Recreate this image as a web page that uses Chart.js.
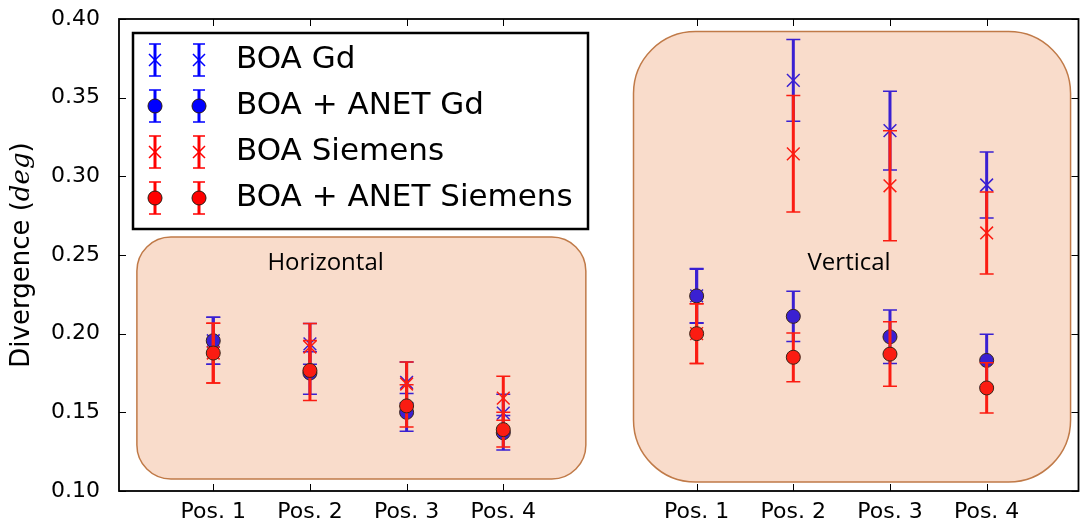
<!DOCTYPE html>
<html>
<head>
<meta charset="utf-8">
<script src="https://cdn.jsdelivr.net/npm/chart.js@4"></script>
<style>
  html, body { margin: 0; padding: 0; background: #fff; }
  #wrap { width: 1089px; height: 531px; }
</style>
</head>
<body>
<div id="wrap"><canvas id="chart"></canvas></div>
<script>
// --- Data ---
const categories = ['', 'Pos. 1', 'Pos. 2', 'Pos. 3', 'Pos. 4', '', 'Pos. 1', 'Pos. 2', 'Pos. 3', 'Pos. 4', ''];
const yTickLabels = ['0.10', '0.15', '0.20', '0.25', '0.30', '0.35', '0.40'];

const boaGd         = [null, 0.1955, 0.1935, 0.169, 0.1495, null, 0.224, 0.361, 0.329, 0.2945, null];
const boaGdErr      = [null, 0.015, 0.013, 0.013, 0.012, null, 0.017, 0.026, 0.025, 0.021, null];
const anetGd        = [null, 0.1955, 0.175, 0.150, 0.137, null, 0.224, 0.211, 0.198, 0.183, null];
const anetGdErr     = [null, 0.015, 0.0135, 0.012, 0.011, null, 0.0174, 0.016, 0.017, 0.0167, null];
const boaSiemens    = [null, 0.1877, 0.1915, 0.168, 0.159, null, 0.200, 0.3143, 0.294, 0.264, null];
const boaSiemensErr = [null, 0.019, 0.015, 0.014, 0.014, null, 0.019, 0.037, 0.035, 0.026, null];
const anetSiemens   = [null, 0.1877, 0.1766, 0.1541, 0.139, null, 0.200, 0.185, 0.187, 0.1655, null];
const anetSiemensErr= [null, 0.019, 0.019, 0.0135, 0.011, null, 0.019, 0.0155, 0.0205, 0.016, null];

const seriesNames = ['BOA Gd', 'BOA + ANET Gd', 'BOA Siemens', 'BOA + ANET Siemens'];

// shaded regions (in axis units) and their captions
const regions = [
  { text: 'Horizontal', x0: 0.21, x1: 4.854, y0: 0.1076, y1: 0.2614, r: 34, tx: 2.162, ty: 0.2449 },
  { text: 'Vertical',   x0: 5.347, x1: 9.868, y0: 0.1057, y1: 0.3920, r: 62, tx: 7.577, ty: 0.2449 }
];

const BLUE = '#3a20d2', RED = '#fb1c12';
const errors = [boaGdErr, anetGdErr, boaSiemensErr, anetSiemensErr];
const toPoints = arr => arr.map((v, i) => ({ x: i, y: v })).filter(p => p.y !== null);

// --- Plugins ---
const regionPlugin = {
  id: 'regions',
  beforeDatasetsDraw(chart) {
    const { ctx, scales: { x, y } } = chart;
    regions.forEach(r => {
      const left = x.getPixelForValue(r.x0), right = x.getPixelForValue(r.x1);
      const top = y.getPixelForValue(r.y1), bottom = y.getPixelForValue(r.y0);
      ctx.save();
      ctx.beginPath();
      ctx.roundRect(left, top, right - left, bottom - top, r.r);
      ctx.fillStyle = '#f9dccb';
      ctx.fill();
      ctx.lineWidth = 1.5;
      ctx.strokeStyle = '#c07a48';
      ctx.stroke();
      ctx.fillStyle = '#000';
      ctx.font = '24px "Open Sans", sans-serif';
      ctx.textAlign = 'center';
      ctx.textBaseline = 'middle';
      ctx.fillText(r.text, x.getPixelForValue(r.tx), y.getPixelForValue(r.ty));
      ctx.restore();
    });
  }
};

function drawErrorBar(ctx, px, yTop, yBot, color, cap) {
  ctx.strokeStyle = color;
  ctx.lineWidth = 3;
  ctx.beginPath();
  ctx.moveTo(px, yTop); ctx.lineTo(px, yBot);
  ctx.stroke();
  ctx.lineWidth = 1.5;
  ctx.beginPath();
  ctx.moveTo(px - cap, yTop); ctx.lineTo(px + cap, yTop);
  ctx.moveTo(px - cap, yBot); ctx.lineTo(px + cap, yBot);
  ctx.stroke();
}

const errorBarPlugin = {
  id: 'errorBars',
  beforeDatasetDraw(chart, args) {
    const { ctx, scales: { y } } = chart;
    const ds = chart.data.datasets[args.index];
    const err = errors[args.index];
    ctx.save();
    args.meta.data.forEach((pt, i) => {
      const p = ds.data[i];
      const e = err[p.x];
      drawErrorBar(ctx, pt.x, y.getPixelForValue(p.y + e), y.getPixelForValue(p.y - e), ds.barColor, 7);
    });
    ctx.restore();
  }
};

const framePlugin = {
  id: 'frame',
  afterDatasetsDraw(chart) {
    const { ctx, chartArea: a, scales: { x, y } } = chart;
    ctx.save();
    ctx.strokeStyle = '#000';
    ctx.lineWidth = 1;
    ctx.beginPath();
    x.ticks.forEach(t => {
      const px = Math.round(x.getPixelForValue(t.value)) + 0.5;
      ctx.moveTo(px, a.bottom); ctx.lineTo(px, a.bottom - 7);
      ctx.moveTo(px, a.top); ctx.lineTo(px, a.top + 7);
    });
    y.ticks.forEach(t => {
      const py = Math.round(y.getPixelForValue(t.value)) + 0.5;
      ctx.moveTo(a.left, py); ctx.lineTo(a.left + 7, py);
      ctx.moveTo(a.right, py); ctx.lineTo(a.right - 7, py);
    });
    ctx.stroke();
    ctx.lineWidth = 1.8;
    ctx.strokeRect(a.left, a.top, a.right - a.left, a.bottom - a.top);
    ctx.restore();
  }
};

const legendPlugin = {
  id: 'customLegend',
  afterDraw(chart) {
    const { ctx, chartArea: a } = chart;
    const bx = a.left + 14, by = a.top + 14, bw = 455, bh = 196;
    ctx.save();
    ctx.fillStyle = '#fff';
    ctx.fillRect(bx, by, bw, bh);
    ctx.lineWidth = 2.5;
    ctx.strokeStyle = '#000';
    ctx.strokeRect(bx, by, bw, bh);
    const legendColors = ['#0000ff', '#0000ff', '#ff0000', '#ff0000'];
    chart.data.datasets.forEach((ds, i) => {
      const cy = by + 27 + i * 46;
      [bx + 22, bx + 66].forEach(mx => {
        drawErrorBar(ctx, mx, cy - 16, cy + 16, legendColors[i], 6);
        ctx.lineWidth = i % 2 === 0 ? 1.5 : 1;
        if (ds.pointStyle === 'circle') {
          ctx.beginPath();
          ctx.arc(mx, cy, 7, 0, Math.PI * 2);
          ctx.fillStyle = legendColors[i];
          ctx.fill();
          ctx.strokeStyle = '#2a1a10';
          ctx.stroke();
        } else {
          ctx.strokeStyle = legendColors[i];
          ctx.beginPath();
          ctx.moveTo(mx - 6, cy - 6); ctx.lineTo(mx + 6, cy + 6);
          ctx.moveTo(mx - 6, cy + 6); ctx.lineTo(mx + 6, cy - 6);
          ctx.stroke();
        }
      });
      ctx.fillStyle = '#000';
      ctx.font = '31px "DejaVu Sans", sans-serif';
      ctx.textBaseline = 'middle';
      ctx.fillText(ds.label, bx + 103, cy);
    });

    // y axis title with italic unit
    ctx.translate(22, (a.top + a.bottom) / 2);
    ctx.rotate(-Math.PI / 2);
    const p1 = 'Divergence (', p2 = 'deg', p3 = ')';
    const f1 = '26px "DejaVu Sans", sans-serif', f2 = 'italic 26px "DejaVu Serif", serif';
    ctx.font = f1; const w1 = ctx.measureText(p1).width, w3 = ctx.measureText(p3).width;
    ctx.font = f2; const w2 = ctx.measureText(p2).width;
    let sx = -(w1 + w2 + w3) / 2;
    ctx.textBaseline = 'middle';
    ctx.font = f1; ctx.fillText(p1, sx, 0); sx += w1;
    ctx.font = f2; ctx.fillText(p2, sx, 0); sx += w2;
    ctx.font = f1; ctx.fillText(p3, sx, 0);
    ctx.restore();
  }
};

// --- Chart ---
const makeSet = (i, data, style, color) => ({
  label: seriesNames[i],
  data: toPoints(data),
  showLine: false,
  order: 3 - i,
  barColor: color,
  pointStyle: style,
  pointRadius: style === 'circle' ? 7 : 9,
  pointBackgroundColor: color,
  pointBorderColor: style === 'circle' ? '#3a2418' : color,
  pointBorderWidth: style === 'circle' ? 1 : 1.5,
  pointHoverRadius: 0
});

new Chart(document.getElementById('chart'), {
  type: 'scatter',
  data: {
    datasets: [
      makeSet(0, boaGd, 'crossRot', BLUE),
      makeSet(1, anetGd, 'circle', BLUE),
      makeSet(2, boaSiemens, 'crossRot', RED),
      makeSet(3, anetSiemens, 'circle', RED)
    ]
  },
  options: {
    responsive: true,
    maintainAspectRatio: false,
    animation: false,
    events: [],
    layout: { padding: { left: 0, top: 19, right: 3, bottom: 0 } },
    plugins: { legend: { display: false }, tooltip: { enabled: false } },
    scales: {
      x: {
        type: 'linear',
        min: 0.025, max: 9.95,
        grid: { display: false },
        border: { display: false },
        afterBuildTicks(scale) {
          scale.ticks = categories.map((c, i) => ({ value: i, label: c })).filter(t => t.label);
        },
        ticks: {
          autoSkip: false, maxRotation: 0, padding: 0, color: '#000',
          font: { family: 'DejaVu Sans', size: 22 },
          callback: v => categories[v]
        },
        afterFit(scale) {
          scale.height = 40;
          scale.paddingLeft = 0; scale.paddingRight = 0;
        }
      },
      y: {
        min: 0.1, max: 0.4,
        grid: { display: false },
        border: { display: false },
        ticks: {
          stepSize: 0.05, padding: 11, color: '#000',
          font: { family: 'DejaVu Sans', size: 22 },
          callback: (v, i) => yTickLabels[i]
        },
        afterFit(scale) {
          scale.width = 119;
          scale.paddingTop = 0; scale.paddingBottom = 0;
        }
      }
    }
  },
  plugins: [regionPlugin, errorBarPlugin, framePlugin, legendPlugin]
});
</script>
</body>
</html>
